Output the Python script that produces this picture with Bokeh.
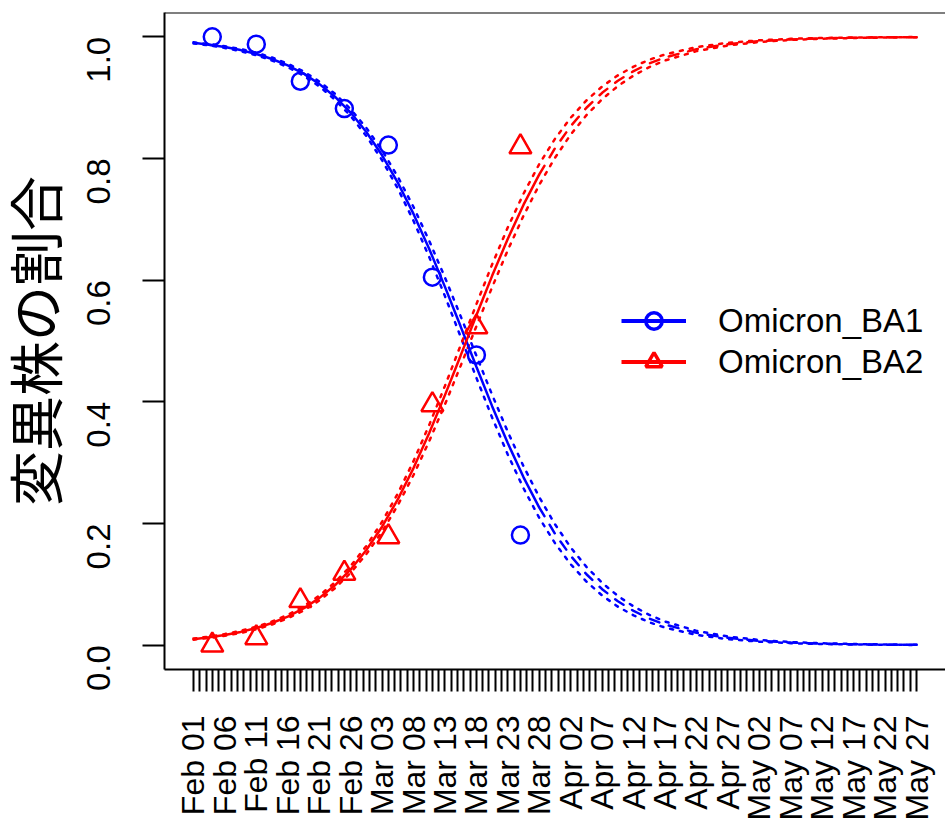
import math
import pandas as pd
from bokeh.plotting import figure
from bokeh.models import (Range1d, FixedTicker, Span, Legend, LegendItem,
                          ColumnDataSource)
from bokeh.embed import file_html
from bokeh.resources import INLINE

# ---------------- data ----------------
start_date = "2022-02-01"
end_date = "2022-05-27"

obs_dates = ["2022-02-04", "2022-02-11", "2022-02-18", "2022-02-25",
             "2022-03-04", "2022-03-11", "2022-03-18", "2022-03-25"]
ba1_share = [1.000, 0.988, 0.927, 0.882, 0.822, 0.605, 0.477, 0.181]
ba2_share = [0.000, 0.012, 0.073, 0.118, 0.178, 0.395, 0.523, 0.819]

# fitted curves (days after Feb 01)
fit_days = [0, 2.5, 5, 7.5, 10, 12.5, 15, 17.5, 20, 22.5, 25, 27.5, 30, 32.5,
            35, 37.5, 40, 42.5, 45, 47.5, 50, 52.5, 55, 57.5, 60, 62.5, 65,
            67.5, 70, 72.5, 75, 80, 85, 90, 95, 100, 105, 110, 115]
observed_until_day = 55

ba2_fit = [0.0099, 0.0129, 0.0168, 0.0218, 0.0282, 0.0364, 0.0470, 0.0604,
           0.0773, 0.0984, 0.1245, 0.1564, 0.1947, 0.2396, 0.2911, 0.3487,
           0.4110, 0.4763, 0.5424, 0.6071, 0.6682, 0.7241, 0.7738, 0.8168,
           0.8532, 0.8834, 0.9080, 0.9279, 0.9437, 0.9563, 0.9661, 0.9798,
           0.9880, 0.9929, 0.9958, 0.9975, 0.9985, 0.9991, 0.9995]
ba2_upper = [0.0109, 0.0141, 0.0182, 0.0235, 0.0302, 0.0389, 0.0499, 0.0638,
             0.0813, 0.1032, 0.1301, 0.1631, 0.2028, 0.2492, 0.3025, 0.3620,
             0.4262, 0.4932, 0.5605, 0.6258, 0.6869, 0.7422, 0.7908, 0.8323,
             0.8670, 0.8955, 0.9184, 0.9367, 0.9510, 0.9624, 0.9711, 0.9831,
             0.9902, 0.9943, 0.9967, 0.9981, 0.9989, 0.9993, 0.9996]
ba2_lower = [0.0090, 0.0118, 0.0154, 0.0201, 0.0261, 0.0340, 0.0441, 0.0569,
             0.0733, 0.0936, 0.1189, 0.1497, 0.1866, 0.2300, 0.2797, 0.3354,
             0.3958, 0.4594, 0.5243, 0.5884, 0.6495, 0.7060, 0.7568, 0.8013,
             0.8394, 0.8713, 0.8976, 0.9191, 0.9364, 0.9502, 0.9611, 0.9765,
             0.9858, 0.9915, 0.9949, 0.9969, 0.9981, 0.9989, 0.9994]

ba1_fit = [0.9901, 0.9871, 0.9832, 0.9782, 0.9718, 0.9636, 0.9530, 0.9396,
           0.9227, 0.9016, 0.8755, 0.8436, 0.8053, 0.7604, 0.7089, 0.6513,
           0.5890, 0.5237, 0.4576, 0.3929, 0.3318, 0.2759, 0.2262, 0.1832,
           0.1468, 0.1166, 0.0920, 0.0721, 0.0563, 0.0437, 0.0339, 0.0202,
           0.0120, 0.0071, 0.0042, 0.0025, 0.0015, 0.0009, 0.0005]
ba1_upper = [0.9910, 0.9882, 0.9846, 0.9799, 0.9739, 0.9660, 0.9559, 0.9431,
             0.9267, 0.9064, 0.8811, 0.8503, 0.8134, 0.7700, 0.7203, 0.6646,
             0.6042, 0.5406, 0.4757, 0.4116, 0.3505, 0.2940, 0.2432, 0.1987,
             0.1606, 0.1287, 0.1024, 0.0809, 0.0636, 0.0498, 0.0389, 0.0235,
             0.0142, 0.0085, 0.0051, 0.0031, 0.0019, 0.0011, 0.0006]
ba1_lower = [0.9891, 0.9859, 0.9818, 0.9765, 0.9698, 0.9611, 0.9501, 0.9362,
             0.9187, 0.8968, 0.8699, 0.8369, 0.7972, 0.7508, 0.6975, 0.6380,
             0.5738, 0.5068, 0.4395, 0.3742, 0.3131, 0.2578, 0.2092, 0.1677,
             0.1330, 0.1045, 0.0816, 0.0633, 0.0490, 0.0376, 0.0289, 0.0169,
             0.0098, 0.0057, 0.0033, 0.0019, 0.0011, 0.0007, 0.0004]

x_tick_labels = ["Feb 01", "Feb 06", "Feb 11", "Feb 16", "Feb 21", "Feb 26",
                 "Mar 03", "Mar 08", "Mar 13", "Mar 18", "Mar 23", "Mar 28",
                 "Apr 02", "Apr 07", "Apr 12", "Apr 17", "Apr 22", "Apr 27",
                 "May 02", "May 07", "May 12", "May 17", "May 22", "May 27"]
label_every = 5
y_tick_values = [0.0, 0.2, 0.4, 0.6, 0.8, 1.0]
y_tick_labels = ["0.0", "0.2", "0.4", "0.6", "0.8", "1.0"]

series_names = ["Omicron_BA1", "Omicron_BA2"]
ylabel = "変異株の割合"

# ---------------- derived ----------------
t0 = pd.Timestamp(start_date)
obs_days = [(pd.Timestamp(d) - t0).days for d in obs_dates]
all_days = list(range(len(pd.date_range(start_date, end_date))))
n_days = all_days[-1]

label_map = {d: "" for d in all_days}
for i, lab in enumerate(x_tick_labels):
    label_map[i * label_every] = lab

pad_x = 0.04 * n_days
pad_y = 0.04 * (y_tick_values[-1] - y_tick_values[0])

FONT = "Liberation Sans"
BLUE = "#0000FF"
RED = "#FF0000"

p = figure(width=945, height=823, output_backend="svg", toolbar_location=None,
           x_range=Range1d(-pad_x, n_days + pad_x),
           y_range=Range1d(y_tick_values[0] - pad_y, y_tick_values[-1] + pad_y),
           min_border_left=164, min_border_right=0, min_border_top=12,
           min_border_bottom=154)
p.outline_line_color = None
p.xgrid.visible = False
p.ygrid.visible = False
p.background_fill_color = "white"
p.border_fill_color = "white"

# x axis
xa = p.xaxis[0]
xa.ticker = FixedTicker(ticks=all_days)
xa.major_label_overrides = label_map
xa.major_label_orientation = math.pi / 2
xa.major_label_text_font = FONT
xa.major_label_text_font_size = "32px"
xa.major_label_text_color = "black"
xa.major_label_standoff = 24
xa.major_tick_out = 22
xa.major_tick_in = 0
xa.major_tick_line_width = 2
xa.major_tick_line_color = "black"
xa.minor_tick_line_color = None
xa.axis_line_width = 2
xa.axis_line_color = "black"

# y axis
ya = p.yaxis[0]
ya.ticker = FixedTicker(ticks=y_tick_values)
ya.major_label_overrides = {v: l for v, l in zip(y_tick_values, y_tick_labels)}
ya.major_label_orientation = math.pi / 2
ya.major_label_text_font = FONT
ya.major_label_text_font_size = "33px"
ya.major_label_text_color = "black"
ya.major_label_standoff = 44
ya.major_tick_out = 22
ya.major_tick_in = 0
ya.major_tick_line_width = 2
ya.major_tick_line_color = "black"
ya.minor_tick_line_color = None
ya.axis_line_width = 2
ya.axis_line_color = "black"
ya.axis_label = ylabel
ya.axis_label_text_font = "Liberation Sans, Noto Sans CJK JP"
ya.axis_label_text_font_size = "55px"
ya.axis_label_text_font_style = "normal"
ya.axis_label_text_color = "black"
ya.axis_label_standoff = 4

# top border of the box
p.add_layout(Span(location=y_tick_values[-1] + pad_y, dimension="width",
                  line_color="black", line_width=2))

# curves
fit_src = ColumnDataSource(dict(day=fit_days, b1=ba1_fit, b1u=ba1_upper,
                                b1l=ba1_lower, b2=ba2_fit, b2u=ba2_upper,
                                b2l=ba2_lower))
solid_idx = [i for i, d in enumerate(fit_days) if d <= observed_until_day]
pred_idx = [i for i, d in enumerate(fit_days) if d >= observed_until_day]

for col, color in [("b1u", BLUE), ("b1l", BLUE), ("b2u", RED), ("b2l", RED)]:
    p.line("day", col, source=fit_src, line_color=color, line_width=2.5,
           line_dash="3 7", line_cap="round")

for vals, color in [(ba1_fit, BLUE), (ba2_fit, RED)]:
    p.line([fit_days[i] for i in solid_idx], [vals[i] for i in solid_idx],
           line_color=color, line_width=2.5)
    p.line([fit_days[i] for i in pred_idx], [vals[i] for i in pred_idx],
           line_color=color, line_width=2.5, line_dash="10 10",
           line_cap="round")

obs_src = ColumnDataSource(dict(day=obs_days, b1=ba1_share, b2=ba2_share))
p.scatter("day", "b1", source=obs_src, marker="circle", size=17,
          fill_color=None, line_color=BLUE, line_width=2.5)
p.scatter("day", "b2", source=obs_src, marker="triangle", size=22,
          fill_color=None, line_color=RED, line_width=2.5)

# legend (style-only renderers that draw nothing in the plot)
nan = float("nan")
lg1 = p.line([nan], [nan], line_color=BLUE, line_width=4)
lm1 = p.scatter([nan], [nan], marker="circle", size=14, fill_color=None,
                line_color=BLUE, line_width=3.5)
lg2 = p.line([nan], [nan], line_color=RED, line_width=4)
lm2 = p.scatter([nan], [nan], marker="triangle", size=21, fill_color=None,
                line_color=RED, line_width=3.5)
legend = Legend(items=[LegendItem(label=series_names[0], renderers=[lg1, lm1]),
                       LegendItem(label=series_names[1], renderers=[lg2, lm2])],
                location=(457, 287), glyph_width=65, glyph_height=41,
                label_height=41, label_standoff=32, spacing=0, padding=0,
                margin=0, border_line_color=None, background_fill_alpha=0,
                label_text_font=FONT, label_text_font_size="33px",
                label_text_color="black")
p.add_layout(legend)

open("out.html", "w").write(file_html(p, INLINE))
